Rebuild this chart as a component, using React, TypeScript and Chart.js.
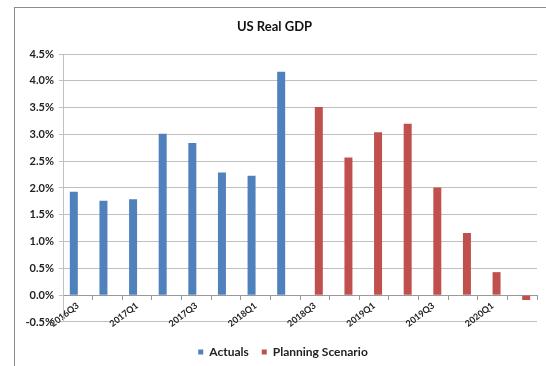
import React, { useEffect, useRef } from "react";
import { Chart, registerables } from "chart.js";

Chart.register(...registerables);

const categories = [
  "2016Q3", "2016Q4", "2017Q1", "2017Q2", "2017Q3", "2017Q4", "2018Q1", "2018Q2",
  "2018Q3", "2018Q4", "2019Q1", "2019Q2", "2019Q3", "2019Q4", "2020Q1", "2020Q2",
];
const actuals = [1.93, 1.76, 1.79, 3.01, 2.84, 2.29, 2.23, 4.17, null, null, null, null, null, null, null, null];
const planning = [null, null, null, null, null, null, null, null, 3.51, 2.57, 3.04, 3.2, 2.01, 1.16, 0.43, -0.09];
const yMin = -0.5;
const yMax = 4.5;
const yStep = 0.5;

const FONT = "Lato, 'Open Sans', sans-serif";

const legendShift = {
  id: "legendShift",
  afterLayout(chart: any) {
    const l = chart.legend;
    if (l) {
      l.left -= 17;
      l.right -= 17;
    }
  },
};

export default function App() {
  const ref = useRef<HTMLCanvasElement | null>(null);

  useEffect(() => {
    if (!ref.current) return;
    const chart = new Chart(ref.current, {
      type: "bar",
      data: {
        labels: categories,
        datasets: [
          {
            label: "Actuals",
            data: actuals,
            backgroundColor: "#4f81bd",
            borderWidth: 0,
            categoryPercentage: 0.54,
            barPercentage: 1,
          },
          {
            label: "Planning Scenario",
            data: planning,
            backgroundColor: "#c0504d",
            borderWidth: 0,
            categoryPercentage: 0.54,
            barPercentage: 1,
          },
        ],
      },
      options: {
        responsive: false,
        animation: false,
        devicePixelRatio: 1,
        layout: { padding: { left: 0, right: 9, top: 0, bottom: -2 } },
        plugins: {
          tooltip: { enabled: false },
          title: {
            display: true,
            text: "US Real GDP",
            color: "#111",
            font: { family: FONT, size: 13, weight: "bold" },
            padding: { top: 19, bottom: 19.4 },
          },
          legend: {
            position: "bottom",
            fullSize: false,
            title: { display: true, text: "", padding: 0, font: { size: 9.17 } },
            labels: {
              boxWidth: 5,
              boxHeight: 5,
              padding: 13,
              color: "#222",
              font: { family: FONT, size: 12, weight: "bold" },
            },
          },
        },
        scales: {
          x: {
            position: { y: 0 },
            offset: true,
            grid: { drawOnChartArea: false, offset: true, tickLength: 4, color: "#999" },
            border: { color: "#999" },
            ticks: {
              autoSkip: false,
              maxRotation: 38,
              minRotation: 38,
              padding: 1,
              color: "#222",
              font: { family: FONT, size: 9, weight: "bold" },
              callback: (_v: any, i: number) => (i % 2 === 0 ? categories[i] : ""),
            },
          },
          y: {
            min: yMin,
            max: yMax,
            grid: { color: "#c0c0c0", tickLength: 4 },
            border: { color: "#c0c0c0" },
            ticks: {
              stepSize: yStep,
              padding: 5,
              color: "#222",
              font: { family: FONT, size: 11, weight: "bold" },
              callback: (v: any) => Number(v).toFixed(1) + "%",
            },
            afterFit: (s: any) => {
              s.width = 51;
            },
          },
        },
      },
      plugins: [legendShift],
    } as any);
    return () => chart.destroy();
  }, []);

  return (
    <div style={{ position: "absolute", left: 0, top: 0, width: 546, height: 366, overflow: "hidden", background: "#fff" }}>
      <div
        style={{
          position: "absolute",
          left: 14,
          top: 7,
          width: 600,
          height: 400,
          borderLeft: "1px solid #8c8c8c",
          borderTop: "1px solid #8c8c8c",
        }}
      />
      <canvas
        ref={ref}
        width={534}
        height={366}
        style={{ position: "absolute", left: 12, top: 0, width: 534, height: 366 }}
      />
    </div>
  );
}
